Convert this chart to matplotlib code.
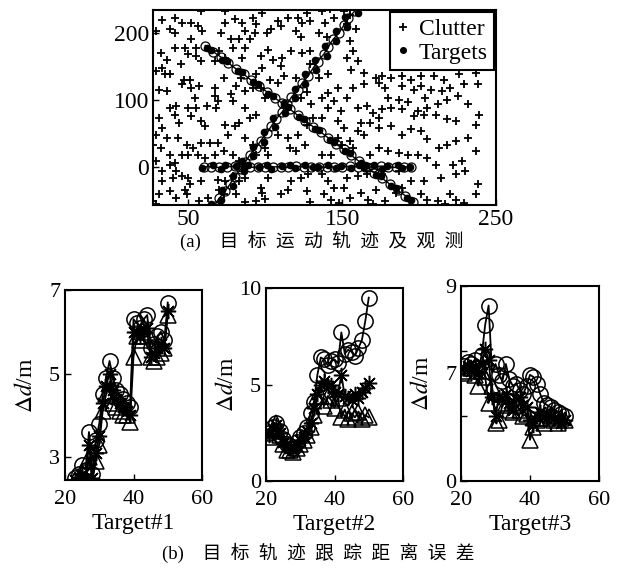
import matplotlib
matplotlib.use("Agg")
import matplotlib.pyplot as plt

plt.rcParams['font.family'] = ['Liberation Serif', 'Noto Sans CJK SC']
plt.rcParams['mathtext.fontset'] = 'stix'

# ---------------- data: top panel ----------------
clutter_x = [58, 74, 33, 41, 46, 52, 56, 59, 29, 38, 41, 74, 80, 85, 92, 98, 94, 87, 93, 101, 104, 108, 115, 110,
             121, 127, 129, 124, 120, 123, 71, 78, 83, 90, 52, 48, 55, 41, 32, 36, 33, 29, 35, 45, 50, 55, 58, 67,
             70, 74, 79, 87, 85, 97, 102, 105, 110, 117, 124, 129, 129, 111, 98, 94, 103, 112, 120, 38, 47, 46, 51,
             52, 57, 67, 73, 81, 84, 87, 92, 97, 100, 108, 123, 127, 130, 31, 36, 54, 67, 69, 62, 68, 79, 87, 78,
             94, 90, 38, 42, 41, 50, 55, 52, 58, 61, 44, 31, 29, 33, 36, 43, 49, 53, 58, 64, 69, 74, 80, 83, 76,
             87, 92, 94, 100, 102, 108, 115, 116, 121, 127, 131, 126, 120, 27, 32, 38, 41, 46, 50, 56, 61, 67, 73,
             79, 83, 38, 29, 33, 42, 46, 50, 51, 48, 40, 33, 31, 38, 42, 49, 58, 57, 63, 69, 74, 79, 83, 87, 97,
             102, 98, 87, 94, 100, 110, 115, 117, 123, 128, 127, 129, 81, 73, 70, 27, 29,
             137, 142, 151, 155, 139, 145, 153, 159, 135, 140, 155, 157, 153, 160, 156, 141, 135, 164, 172, 176,
             182, 189, 195, 201, 210, 216, 226, 237, 238, 229, 220, 215, 208, 201, 197, 189, 178, 174, 164, 157,
             147, 141, 137, 145, 153, 160, 166, 170, 176, 180, 187, 193, 199, 205, 204, 212, 218, 225, 232, 239,
             237, 224, 218, 211, 203, 197, 189, 182, 174, 168, 162, 149, 141, 137, 147, 151, 160, 164, 155, 150,
             147, 174, 182, 189, 195, 201, 205, 213, 218, 224, 232, 237, 228, 222, 230, 224, 211, 205, 199, 193,
             187, 180, 174, 168, 164, 157, 143, 137, 137, 141, 145, 151, 138, 143, 148, 155, 162, 167, 172, 170,
             178, 185, 189, 195, 203, 214, 201, 205, 212, 220, 224, 229, 237, 238, 217, 176, 187, 160, 153, 166]
clutter_y = [232, 233, 219, 222, 215, 215, 210, 203, 203, 205, 200, 215, 220, 215, 222, 230, 213, 203, 200, 200,
             205, 218, 222, 210, 222, 230, 218, 215, 203, 193, 200, 190, 190, 190, 190, 178, 178, 178, 170, 160,
             148, 143, 138, 153, 168, 165, 158, 158, 173, 163, 178, 178, 163, 165, 175, 160, 150, 173, 170, 173,
             153, 163, 148, 138, 130, 135, 133, 138, 130, 123, 130, 118, 120, 118, 133, 120, 133, 113, 118, 118,
             103, 125, 103, 111, 93, 115, 113, 103, 105, 98, 91, 88, 98, 88, 108, 78, 73, 88, 91, 78, 88, 88, 76,
             68, 61, 66, 73, 48, 58, 43, 43, 33, 28, 36, 36, 36, 63, 61, 66, 48, 43, 33, 18, 28, 18, 48, 43, 28,
             48, 63, 73, 33, 23, 33, 28, 18, 6, 18, 18, 18, 13, 18, 23, 18, 8, 3, 8, -6, -6, -14, -16, -26, -34,
             -16, -21, -41, -36, -46, -41, -21, -51, -46, -19, -21, -14, -21, -16, -31, -16, -39, -53, -51, -48,
             -41, -34, -21, -16, -11, -36, -53, -41, -41, -34, -51, -56,
             232, 235, 232, 227, 215, 222, 213, 205, 200, 193, 188, 173, 163, 158, 145, 138, 133, 140, 133, 135,
             133, 135, 130, 135, 135, 130, 138, 140, 123, 123, 118, 113, 115, 120, 115, 120, 118, 125, 123, 118,
             118, 110, 103, 98, 103, 88, 91, 81, 86, 103, 100, 96, 83, 88, 103, 93, 100, 106, 93, 78, 63, 68, 71,
             78, 78, 76, 86, 88, 73, 66, 66, 83, 88, 73, 68, 58, 53, 48, 38, 33, 43, 58, 61, 48, 56, 53, 41, 28,
             33, 38, 43, 23, 8, 3, -6, -11, 3, 13, 18, 18, 21, 23, 28, 18, 3, 28, 18, 18, -11, -21, -31, -31, -41,
             -49, -54, -46, -39, -49, -34, -56, -51, -39, -31, -21, -21, -16, -41, -49, -51, -41, -49, -54, -41,
             -26, -56, -11, -6, -14, -16, -11]

track1_x = [60, 65, 70, 75, 80, 85, 90, 95, 100, 105, 110, 115, 120, 125, 130, 135, 140, 145, 150, 155, 160, 165,
            170, 175, 180, 185, 190, 195]
track1_y = [0, 0, -1, 0, 1, 0, -1, 0, 0, 0, 0, -1, 1, 0, 0, 0, -1, 0, 0, 1, 0, -1, 0, 1, 0, -1, 0, 0]
meas1_x = [59, 66, 71, 74, 81, 86, 89, 96, 101, 104, 111, 116, 119, 126, 131, 134, 141, 146, 149, 156, 161, 164,
           171, 176, 179, 186, 189, 194]
meas1_y = [-2, 3, -3, 2, 1, -2, 3, -1, 2, -3, 1, 3, -2, 2, -1, 0, 3, -2, 1, -2, 2, -1, 3, -3, 1, 2, -2, 0]

track2_x = [61, 66, 71, 76, 81, 86, 91, 96, 101, 106, 111, 116, 121, 126, 131, 136, 141, 146, 151, 156, 161, 166,
            171, 176, 181, 186, 191, 196]
track2_y = [181, 172, 164, 155, 146, 138, 129, 120, 112, 103, 95, 86, 77, 69, 60, 52, 43, 34, 26, 17, 8, 0, -9,
            -17, -26, -35, -43, -52]
meas2_x = [62, 65, 72, 75, 82, 85, 92, 95, 102, 105, 112, 115, 122, 125, 132, 135, 142, 145, 152, 155, 162, 165,
           172, 175, 182, 185, 192, 195]
meas2_y = [178, 175, 160, 158, 143, 141, 126, 123, 109, 106, 92, 89, 74, 72, 57, 55, 40, 37, 23, 20, 5, 3, -12,
           -14, -29, -32, -46, -49]

track3_x = [67, 70, 74, 77, 80, 84, 87, 90, 94, 97, 101, 104, 107, 111, 114, 117, 121, 124, 128, 131, 134, 138,
            141, 144, 148, 151, 154, 158]
track3_y = [-58, -47, -36, -26, -15, -4, 7, 18, 28, 39, 50, 61, 71, 82, 93, 104, 114, 125, 136, 147, 157, 168,
            179, 190, 200, 211, 222, 232]
meas3_x = [65, 71, 72, 79, 79, 86, 85, 92, 92, 99, 99, 106, 105, 113, 112, 119, 119, 126, 126, 133, 132, 140,
           139, 146, 146, 153, 152, 160]
meas3_y = [-56, -49, -34, -28, -13, -6, 9, 16, 30, 37, 52, 59, 73, 80, 95, 102, 116, 123, 138, 145, 159, 166, 181,
           188, 202, 209, 224, 230]

top_xticks = [50, 150, 250]
top_yticks = [0, 100, 200]

# ---------------- data: bottom panels ----------------
t1 = [23, 24, 25, 26, 27, 28, 29, 30, 31, 32, 33, 34, 35, 36, 37, 38, 39, 40, 41, 42, 43, 44, 45, 46, 47, 48, 49, 50]
err1_circ = [2.5, 2.6, 2.8, 2.7, 3.6, 2.6, 3.4, 3.8, 4.5, 4.9, 5.3, 4.9, 4.6, 4.5, 4.4, 4.3, 4.2, 6.3, 6.2, 6.1,
             6.3, 6.4, 5.6, 5.7, 5.9, 6.0, 5.8, 6.7]
err1_star = [2.45, 2.5, 2.6, 2.5, 3.3, 2.5, 3.1, 3.5, 4.3, 4.7, 5.0, 4.6, 4.4, 4.3, 4.2, 4.1, 4.0, 6.0, 6.0, 5.9,
             6.0, 6.1, 5.4, 5.5, 5.6, 5.7, 5.6, 6.5]
err1_tri = [2.45, 2.5, 2.5, 2.45, 3.0, 2.45, 2.9, 3.3, 4.1, 4.5, 4.8, 4.3, 4.2, 4.1, 4.0, 4.0, 3.85, 5.4, 5.9, 5.8,
            5.9, 6.0, 5.4, 5.3, 5.4, 5.5, 5.6, 6.4]
y1_ticks = [3, 5, 7]

t2 = [21, 22, 23, 24, 25, 26, 27, 28, 29, 30, 31, 32, 33, 34, 35, 36, 37, 38, 39, 40, 41, 42, 43, 44, 45, 46, 47,
      48, 49, 50]
err2_circ = [2.5, 2.8, 3.0, 2.6, 2.2, 1.9, 1.8, 1.7, 2.0, 2.3, 2.5, 2.8, 3.5, 4.1, 5.5, 6.4, 6.3, 6.0, 6.2, 6.3,
             6.1, 7.7, 6.6, 6.8, 6.7, 6.5, 6.9, 7.3, 8.3, 9.5]
err2_star = [2.4, 2.7, 2.9, 2.5, 2.0, 1.8, 1.7, 1.6, 1.8, 2.1, 2.3, 2.6, 3.0, 3.8, 4.5, 5.0, 5.2, 4.9, 5.0, 4.6,
             4.5, 5.5, 4.4, 4.3, 4.2, 4.5, 4.3, 4.6, 4.8, 5.1]
err2_tri = [2.3, 2.6, 3.0, 2.4, 1.9, 1.6, 1.6, 1.5, 1.7, 1.9, 2.1, 2.4, 2.8, 3.4, 4.4, 4.4, 3.9, 4.4, 4.2, 3.8,
            4.3, 3.3, 3.7, 3.2, 3.5, 3.3, 3.6, 3.2, 3.4, 3.3]
y2_ticks = [0, 5, 10]

t3 = [21, 22, 23, 24, 25, 26, 27, 28, 29, 30, 31, 32, 33, 34, 35, 36, 37, 38, 39, 40, 41, 42, 43, 44, 45, 46, 47,
      48, 49, 50]
err3_circ = [5.3, 5.5, 5.4, 5.6, 5.2, 5.8, 7.2, 8.1, 5.0, 5.4, 4.9, 4.6, 5.4, 4.7, 4.4, 4.5, 4.2, 4.0, 4.4, 4.9,
             4.8, 4.5, 4.0, 3.6, 3.5, 3.4, 3.3, 3.2, 3.1, 3.0]
err3_star = [5.2, 5.3, 5.1, 5.3, 5.0, 5.4, 6.1, 5.6, 3.9, 3.0, 3.9, 3.8, 4.0, 3.6, 3.3, 3.8, 3.9, 3.5, 3.4, 2.8,
             2.6, 3.0, 3.2, 3.0, 3.1, 3.0, 2.9, 2.8, 2.7, 2.8]
err3_tri = [5.0, 5.1, 5.2, 4.9, 4.4, 5.1, 4.8, 3.6, 4.4, 2.7, 2.8, 3.5, 3.6, 3.3, 3.2, 3.5, 3.3, 3.0, 3.1, 1.9,
            2.5, 2.8, 2.9, 2.7, 2.9, 3.0, 2.8, 2.7, 2.9, 2.8]
y3_ticks = [0, 3, 5, 6, 9]
y3_labels = ['0', '', '7', '', '9']

bottom_xticks = [20, 40, 60]
xlabels = ['Target#1', 'Target#2', 'Target#3']
caption_a_tag, caption_a_text = '(a)', '目标运动轨迹及观测'
caption_b_tag, caption_b_text = '(b)', '目标轨迹跟踪距离误差'

# ---------------- figure ----------------
W, H = 622, 578
fig = plt.figure(figsize=(W / 100, H / 100), dpi=100)

def frac(l, r, t, b):
    return [l / W, (H - b) / H, (r - l) / W, (b - t) / H]

def spaced(tag, text):
    return tag + '\u2002\u2002' + '\u2002'.join(text)

ax = fig.add_axes(frac(153, 496, 10, 205))
ax.plot(clutter_x, clutter_y, '+', color='k', ms=6, mew=1.3, label='Clutter', zorder=2)
for tx, ty in [(track1_x, track1_y), (track2_x, track2_y), (track3_x, track3_y)]:
    ax.plot(tx, ty, '-o', color='k', mfc='none', ms=6.5, mew=0.9, lw=1.0, zorder=3)
for i, (mx, my) in enumerate([(meas1_x, meas1_y), (meas2_x, meas2_y), (meas3_x, meas3_y)]):
    ax.plot(mx, my, 'o', color='k', ms=4.5, zorder=4, label='Targets' if i == 0 else None)
ax.set_xlim(27, 250)
ax.set_ylim(-57, 234)
ax.set_xticks(top_xticks)
ax.set_yticks(top_yticks)
ax.tick_params(direction='in', labelsize=17, length=4, width=1, pad=3)
for s in ax.spines.values():
    s.set_linewidth(1.5)
leg = ax.legend(loc='upper right', fontsize=17, frameon=True, fancybox=False, edgecolor='k',
                handlelength=0.6, handletextpad=0.35, borderpad=0.25, labelspacing=0.1,
                borderaxespad=0.1, markerscale=0.9, framealpha=1)
leg.get_frame().set_linewidth(1.5)
leg.set_zorder(10)

fig.text(322 / W, 1 - 241 / H, spaced(caption_a_tag, caption_a_text), ha='center', va='center', fontsize=13.5)

boxes = [frac(65, 202, 290, 480), frac(266, 403, 288, 481), frac(461, 599, 286, 481)]
series = [(t1, err1_circ, err1_star, err1_tri), (t2, err2_circ, err2_star, err2_tri),
          (t3, err3_circ, err3_star, err3_tri)]
ylims = [(2.45, 7), (0, 10), (0, 9)]
yticks_all = [y1_ticks, y2_ticks, y3_ticks]

for k in range(3):
    a = fig.add_axes(boxes[k])
    t, c, s_, tr = series[k]
    kw = dict(color='k', mfc='none', lw=1.3, mew=1.1)
    a.plot(t, c, '-o', ms=11, **kw)
    a.plot(t, s_, '-', marker=(8, 2, 0), ms=11, color='k', lw=1.3, mew=1.1)
    a.plot(t, tr, '-^', ms=11, **kw)
    a.set_xlim(20, 60)
    a.set_ylim(*ylims[k])
    a.set_xticks(bottom_xticks)
    a.set_yticks(yticks_all[k])
    if k == 2:
        a.set_yticklabels(y3_labels)
    a.tick_params(direction='in', labelsize=16, length=4, width=1)
    a.tick_params(axis='x', pad=7)
    for sp in a.spines.values():
        sp.set_linewidth(1.5)
    a.set_xlabel(xlabels[k], fontsize=17, labelpad=3)
    a.set_ylabel(r'$\Delta d$/m', fontsize=17)
    a.yaxis.set_label_coords(-0.205, 0.5)

fig.text(318 / W, 1 - 553 / H, spaced(caption_b_tag, caption_b_text), ha='center', va='center', fontsize=13.5)

fig.savefig('out.png', dpi=100)
